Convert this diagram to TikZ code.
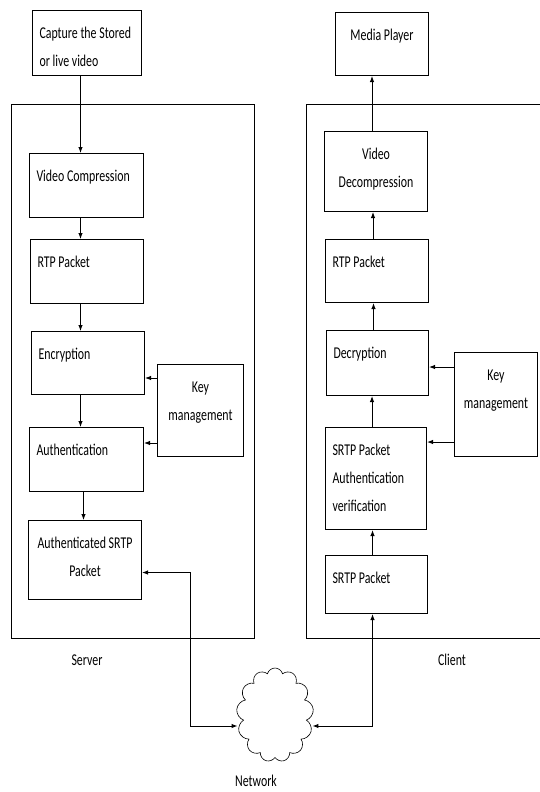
\documentclass[tikz,border=0pt]{standalone}
\usepackage{fontspec}
\setmainfont{Carlito}[FakeStretch=0.72]
\usepackage{tikz}
\usetikzlibrary{positioning}
\usetikzlibrary{arrows.meta}
\usetikzlibrary{shapes.symbols}

\tikzset{
    blk/.style 2 args={draw, anchor=north west, inner xsep=7pt, inner ysep=0pt,
        text width=#1pt-14pt, text height=28pt, text depth=#2pt-28pt, align=flush left},
    cblk/.style 2 args={blk={#1}{#2}, align=flush center},
    frame/.style={-, line width=1pt},
    lbl/.style={inner sep=0pt}
}

\begin{document}
\begin{tikzpicture}[-> , >={Latex[length=6pt, width=4.5pt]}, x=1pt, y=-1pt, line width=1pt,
        font=\fontsize{16.5}{28}\selectfont]
            \useasboundingbox (0,0) rectangle (539,792);
            % Server side
            \draw[frame] (11,104) rectangle (254,638);
            \node[blk={109}{65}] (cap) at (32,10) {Capture the Stored\\or live video};
            \node[blk={114}{64}] (vc) at (29,153) {Video Compression};
            \node[blk={113}{64}] (rtpS) at (30,239) {RTP Packet};
            \node[blk={113}{63}] (enc) at (31,331) {Encryption};
            \node[cblk={86}{92}] (keyS) at (157,364) {Key\\management};
            \node[blk={114}{64}] (auth) at (29,427) {Authentication};
            \node[cblk={113}{79}] (asrtp) at (28,520) {Authenticated SRTP\\Packet};
            \node[lbl] (srvlbl) at (87,660) {Server};

            % Client side
            \draw[frame] (541,104) -- (306,104) -- (306,638) -- (541,638);
            \node[cblk={93}{63}] (mp) at (335,12) {Media Player};
            \node[cblk={103}{80}] (vd) at (324,131) {Video\\Decompression};
            \node[blk={103}{63}] (rtpC) at (325,239) {RTP Packet};
            \node[blk={102}{65}] (dec) at (326,330) {Decryption};
            \node[cblk={83}{104}] (keyC) at (454,352) {Key\\management};
            \node[blk={101}{102}] (sav) at (325,427) {SRTP Packet\\Authentication\\verification};
            \node[blk={102}{58}] (srtp) at (325,555) {SRTP Packet};
            \node[lbl] (clilbl) at (452,660) {Client};

            % Network
            \node[cloud, draw, cloud puffs=13, cloud ignores aspect, minimum width=77pt,
                minimum height=94pt, line width=0.6pt] (net) at (275,715) {};
            \node[lbl] (netlbl) at (256,781) {Network};

            % Paths
            \draw ([xshift=-6.5pt]cap.south) -- ([xshift=-6.5pt]cap.south |- vc.north); % capture -> compression
            \foreach \a/\b/\s in {vc/rtpS/-6, rtpS/enc/-6.5, enc/auth/-7.5, auth/asrtp/-3} {
                \draw ([xshift=\s pt]\a.south) -- ([xshift=\s pt]\a.south |- \b.north);
            }
            \foreach \a/\b in {srtp/sav, sav/dec, dec/rtpC, rtpC/vd, vd/mp} {
                \draw ([xshift=-4pt]\a.north) -- ([xshift=-4pt]\a.north |- \b.south);
            }
            \draw ([yshift=-14pt]keyS.north west) -- ([yshift=-14pt]keyS.north west -| enc.east); % key -> encryption
            \draw ([yshift=14pt]keyS.south west) -- ([yshift=14pt]keyS.south west -| auth.east); % key -> authentication
            \draw ([yshift=-15pt]keyC.north west) -- ([yshift=-15pt]keyC.north west -| dec.east); % key -> decryption
            \draw ([yshift=15pt]keyC.south west) -- ([yshift=15pt]keyC.south west -| sav.east); % key -> verification
            \draw[<->] ([yshift=-12.5pt]asrtp.east) -- ++(48,0) |- ([yshift=-11pt]net.west); % server <-> network
            \draw[<->] ([yshift=-11pt]net.east) -| ([xshift=-4pt]srtp.south); % network <-> client
        \end{tikzpicture}
\end{document}
